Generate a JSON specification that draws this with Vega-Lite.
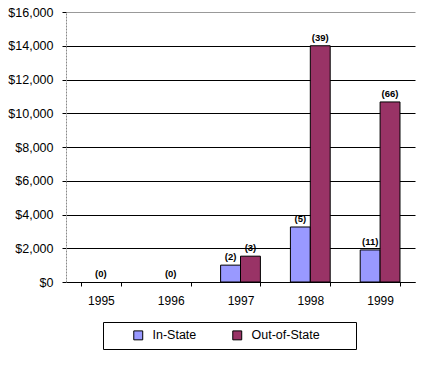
{
  "$schema": "https://vega.github.io/schema/vega-lite/v6.json",
  "autosize": {"type": "none"},
  "width": 349,
  "height": 270,
  "padding": {"left": 66, "top": 12, "right": 19, "bottom": 86},
  "background": "white",
  "config": {
    "font": "Liberation Sans",
    "view": {"stroke": null}
  },
  "data": {
    "values": [
      {"year": "1995", "series": "In-State", "amount": 0, "label": "(0)"},
      {"year": "1995", "series": "Out-of-State", "amount": 0, "label": "(0)"},
      {"year": "1996", "series": "In-State", "amount": 0, "label": "(0)"},
      {"year": "1996", "series": "Out-of-State", "amount": 0, "label": "(0)"},
      {"year": "1997", "series": "In-State", "amount": 1000, "label": "(2)"},
      {"year": "1997", "series": "Out-of-State", "amount": 1530, "label": "(3)"},
      {"year": "1998", "series": "In-State", "amount": 3260, "label": "(5)"},
      {"year": "1998", "series": "Out-of-State", "amount": 14000, "label": "(39)"},
      {"year": "1999", "series": "In-State", "amount": 1900, "label": "(11)"},
      {"year": "1999", "series": "Out-of-State", "amount": 10670, "label": "(66)"}
    ]
  },
  "encoding": {
    "x": {
      "field": "year",
      "type": "nominal",
      "scale": {"paddingInner": 0.43, "paddingOuter": 0.215},
      "axis": {
        "title": null,
        "labelAngle": 0,
        "labelFontSize": 12,
        "labelColor": "black",
        "labelPadding": 9,
        "domainColor": "black",
        "domainWidth": 1,
        "tickColor": "black",
        "tickSize": 4,
        "tickBand": "extent",
        "grid": false
      }
    },
    "y": {
      "field": "amount",
      "type": "quantitative",
      "scale": {"domain": [0, 16000], "nice": false},
      "axis": {
        "title": null,
        "values": [0, 2000, 4000, 6000, 8000, 10000, 12000, 14000, 16000],
        "format": "$,.0f",
        "labelFontSize": 12.5,
        "labelColor": "black",
        "labelPadding": 9,
        "domainColor": "#888888",
        "domainDash": [2, 1],
        "tickColor": "black",
        "tickSize": 4,
        "grid": true,
        "gridColor": {"condition": {"test": "datum.value == 16000", "value": "#999999"}, "value": "black"},
        "gridWidth": 1,
        "gridOpacity": 1
      }
    }
  },
  "layer": [
    {
      "transform": [{"filter": "datum.amount > 0"}],
      "mark": {"type": "bar", "stroke": "black", "strokeWidth": 1},
      "encoding": {
        "xOffset": {"field": "series", "type": "nominal", "scale": {"paddingInner": 0, "paddingOuter": 0}},
        "color": {
          "field": "series",
          "type": "nominal",
          "scale": {"domain": ["In-State", "Out-of-State"], "range": ["#9999FF", "#993366"]},
          "legend": {
            "title": " ",
            "titleOrient": "right",
            "titlePadding": 29,
            "orient": "none",
            "direction": "horizontal",
            "legendX": 37,
            "legendY": 310,
            "strokeColor": "black",
            "padding": 7,
            "symbolType": "square",
            "symbolSize": 80,
            "symbolOffset": 22,
            "symbolStrokeColor": "black",
            "symbolStrokeWidth": 1,
            "labelFontSize": 12.5,
            "labelColor": "black",
            "labelOffset": 8,
            "columnPadding": 12,
            "fillColor": "white"
          }
        }
      }
    },
    {
      "transform": [{"filter": "datum.amount > 0"}],
      "mark": {"type": "text", "baseline": "bottom", "dy": -3, "fontSize": 9.5, "fontWeight": "bold", "color": "black"},
      "encoding": {
        "xOffset": {"field": "series", "type": "nominal", "scale": {"paddingInner": 0, "paddingOuter": 0}},
        "text": {"field": "label"}
      }
    },
    {
      "transform": [{"filter": "datum.amount == 0 && datum.series == 'In-State'"}],
      "mark": {"type": "text", "baseline": "bottom", "dy": -3, "fontSize": 9.5, "fontWeight": "bold", "color": "black"},
      "encoding": {
        "text": {"field": "label"}
      }
    }
  ]
}
